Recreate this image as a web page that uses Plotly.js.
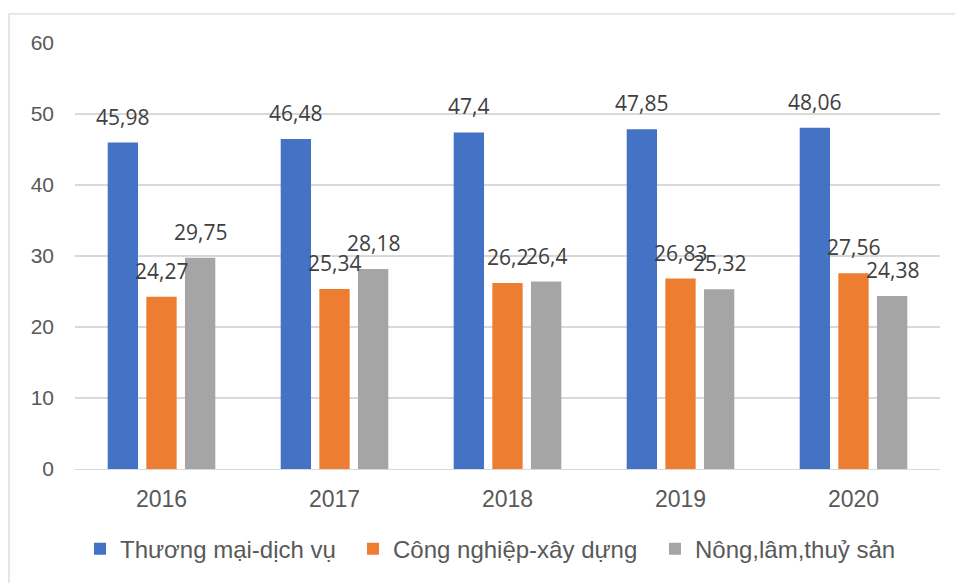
<!DOCTYPE html>
<html>
<head>
<meta charset="utf-8">
<script src="https://cdn.plot.ly/plotly-3.0.1.min.js"></script>
<style>html,body{margin:0;padding:0;background:#fff;}#chart{width:955px;height:583px;}</style>
</head>
<body>
<div id="chart"></div>
<script>
const years = ['2016', '2017', '2018', '2019', '2020'];
const seriesNames = ['Thương mại-dịch vụ', 'Công nghiệp-xây dựng', 'Nông,lâm,thuỷ sản'];
const thuongMai = [45.98, 46.48, 47.4, 47.85, 48.06];
const congNghiep = [24.27, 25.34, 26.2, 26.83, 27.56];
const nongLam = [29.75, 28.18, 26.4, 25.32, 24.38];
const yTicks = [0, 10, 20, 30, 40, 50, 60];

const colors = ['#4472C4', '#ED7D31', '#A5A5A5'];
const allSeries = [thuongMai, congNghiep, nongLam];
const legendIds = ['legend', 'legend2', 'legend3'];
const legendX = [0.0058, 0.3214, 0.6705];
const bargap = 0.33;
const bargroupgap = 0.215;

const traces = allSeries.map((vals, k) => ({
  type: 'bar',
  name: seriesNames[k],
  x: years,
  y: vals,
  legend: legendIds[k],
  marker: {color: colors[k]},
  hoverinfo: 'x+y+name'
}));

const fmt = v => String(v).replace('.', ',');
const slot = (1 - bargap) / allSeries.length;
const annotations = [];
allSeries.forEach((vals, k) => {
  vals.forEach((v, i) => {
    annotations.push({
      x: i + (k - 1) * slot,
      y: v,
      xref: 'x', yref: 'y',
      text: fmt(v),
      showarrow: false,
      yanchor: 'middle',
      yshift: 26,
      font: {family: 'Open Sans, sans-serif', size: 21, color: '#404040'}
    });
  });
});

const legendFont = {family: 'Liberation Sans, Arial, sans-serif', size: 24, color: '#595959'};

const layout = {
  width: 955, height: 583,
  margin: {l: 75, r: 15, t: 43, b: 114},
  paper_bgcolor: '#ffffff',
  plot_bgcolor: '#ffffff',
  barmode: 'group',
  bargap: bargap,
  bargroupgap: bargroupgap,
  showlegend: true,
  xaxis: {
    type: 'category',
    tickfont: {family: 'Liberation Sans, Arial, sans-serif', size: 23, color: '#595959'},
    showline: true, linecolor: '#d9d9d9', linewidth: 1.3,
    ticks: '', showgrid: false,
    ticklabelstandoff: 9,
    fixedrange: true
  },
  yaxis: {
    range: [0, 60],
    tickvals: yTicks,
    ticktext: yTicks.map(String),
    tickfont: {family: 'Liberation Sans, Arial, sans-serif', size: 21, color: '#595959'},
    showgrid: true, gridcolor: '#d9d9d9', gridwidth: 1.3,
    zeroline: false, showline: false, ticks: '',
    ticklabelstandoff: 20,
    fixedrange: true
  },
  annotations: annotations,
  shapes: [{
    type: 'rect', xref: 'paper', yref: 'paper',
    x0: -0.0763, x1: 1.03, y0: -0.35, y1: 1.0685,
    line: {color: '#d9d9d9', width: 1.3},
    fillcolor: 'rgba(0,0,0,0)', layer: 'below'
  }]
};
legendIds.forEach((id, k) => {
  layout[id] = {
    orientation: 'h',
    x: legendX[k], xanchor: 'left',
    y: -0.188, yanchor: 'middle',
    font: legendFont,
    bgcolor: 'rgba(0,0,0,0)'
  };
});

Plotly.newPlot('chart', traces, layout, {displayModeBar: false, staticPlot: true});
</script>
</body>
</html>
